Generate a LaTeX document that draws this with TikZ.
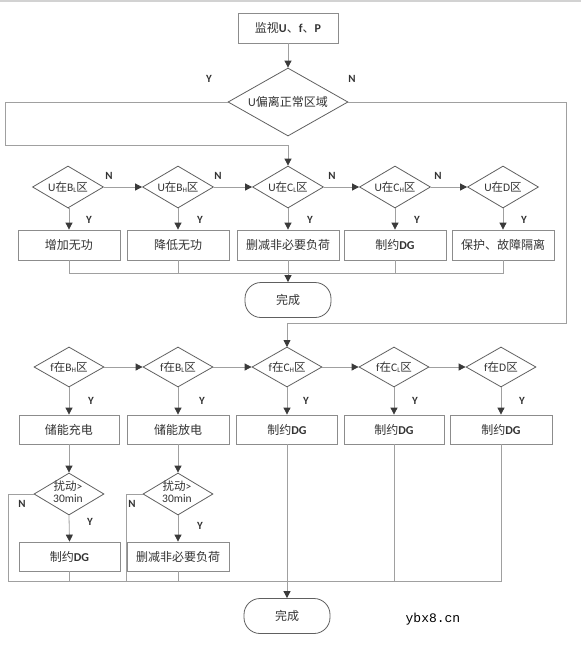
\documentclass[tikz,border=0pt]{standalone}
\usepackage{fontspec}
\setmainfont{Carlito}
\newfontfamily\cjk{Noto Sans CJK SC}
\newfontfamily\wmfont{Liberation Mono}
\usetikzlibrary{shapes.geometric,arrows.meta}
\definecolor{lncol}{HTML}{A0A0A0}
\definecolor{boxcol}{HTML}{8C8C8C}
\definecolor{diacol}{HTML}{606060}
\definecolor{tipcol}{HTML}{3A3A3A}
\definecolor{txtcol}{HTML}{333333}
\newcommand\zh[1]{{\cjk #1}}
\newcommand\lsub[1]{\raisebox{-0.3ex}{\fontsize{7}{7}\selectfont #1}}
\tikzset{
  every node/.style={text=txtcol},
  procbox/.style={draw=boxcol, line width=0.8pt, rectangle, minimum height=30pt, minimum width=102pt, inner sep=0pt, font=\fontsize{12}{14}\selectfont},
  dia/.style={draw=diacol, line width=0.8pt, diamond, minimum width=71pt, minimum height=42pt, inner sep=0pt},
  diatext/.style={font=\fontsize{11.5}{12}\selectfont, inner sep=0pt},
  term/.style={draw=diacol, line width=0.8pt, rectangle, rounded corners=16pt, minimum width=86pt, minimum height=35pt, inner sep=0pt, font=\fontsize{12}{14}\selectfont},
  lnk/.style={draw=lncol, line width=0.8pt},
  arr/.style={lnk, -{Triangle[length=7pt,width=7pt,color=tipcol]}},
  yn/.style={font=\bfseries\fontsize{11}{12}\selectfont, inner sep=0pt}
}
\begin{document}
\begin{tikzpicture}[x=1pt,y=-1pt]
\useasboundingbox (0,0) rectangle (581,649);
\fill[white] (0,0) rectangle (581,649);
\draw[gray!35, line width=2pt] (0,1) -- (581,1);

% top
\node[procbox, minimum width=100pt] (start) at (288,28) {\zh{监视}\textbf{U}\zh{、}\textbf{f}\zh{、}\textbf{P}};
\node[dia, minimum width=120pt, minimum height=68pt] (dmain) at (288,102) {};
\node[diatext, font=\fontsize{12}{13}\selectfont] (dmaint) at (288,102) {U\zh{偏离正常区域}};
\draw[arr] (start.south) -- (dmain.north);
\node[yn] (ymain) at (209,79) {Y};
\node[yn] (nmain) at (352,79) {N};

% row 1 diamonds
\foreach \n/\x/\t in {u1/68/{U\zh{在}B\lsub{L}\zh{区}}, u2/178/{U\zh{在}B\lsub{H}\zh{区}}, u3/288/{U\zh{在}C\lsub{L}\zh{区}}, u4/395/{U\zh{在}C\lsub{H}\zh{区}}, u5/503/{U\zh{在}D\zh{区}}}{
  \node[dia] (\n) at (\x,187) {};
  \node[diatext] (\n t) at (\x,187) {\t};
}
% row 1 boxes
\node[procbox] (b1) at (69,245) {\zh{增加无功}};
\node[procbox] (b2) at (178,245) {\zh{降低无功}};
\node[procbox] (b3) at (288,245) {\zh{删减非必要负荷}};
\node[procbox] (b4) at (395,245) {\zh{制约}\textbf{DG}};
\node[procbox] (b5) at (503,245) {\zh{保护、故障隔离}};
\node[term] (end1) at (288,300) {\zh{完成}};

% loops from main decision
\coordinate (lc1) at (5,102);
\coordinate (lc2) at (5,145);
\draw[arr] (dmain.west) -- (lc1) -- (lc2) -| (u3.north);
\coordinate (rc1) at (566,102);
\coordinate (rc2) at (566,323);

% row 1 connectors
\draw[arr] (u1.east) -- (u2.west);
\draw[arr] (u2.east) -- (u3.west);
\draw[arr] (u3.east) -- (u4.west);
\draw[arr] (u4.east) -- (u5.west);
\foreach \x/\n in {109/na, 218/nb, 332/nc, 438/nd}{\node[yn] (\n) at (\x,176) {N};}
\foreach \i in {1,...,5}{\draw[arr] (u\i.south) -- (b\i.north |- u\i.south) -- (b\i.north);}
\foreach \x/\n in {89/ya, 200/yb, 310/yc, 417/yd, 524/ye}{\node[yn] (\n) at (\x,220) {Y};}
\coordinate (mL) at (69,273);
\coordinate (mR) at (503,273);
\draw[lnk] (b1.south) -- (mL) -- (mR) -- (b5.south);
\draw[lnk] (b2.south) -- (b2.south |- mL);
\draw[lnk] (b4.south) -- (b4.south |- mL);
\draw[arr] (b3.south) -- (end1.north);

% row 2
\draw[arr] (dmain.east) -- (rc1) -- (rc2) -| (287,347);
\foreach \n/\x/\t in {f1/69/{f\zh{在}B\lsub{H}\zh{区}}, f2/178/{f\zh{在}B\lsub{L}\zh{区}}, f3/287/{f\zh{在}C\lsub{H}\zh{区}}, f4/394/{f\zh{在}C\lsub{L}\zh{区}}, f5/501/{f\zh{在}D\zh{区}}}{
  \node[dia, minimum height=40pt, minimum width=70pt] (\n) at (\x,367) {};
  \node[diatext] (\n t) at (\x,367) {\t};
}
\draw[arr] (f1.east) -- (f2.west);
\draw[arr] (f2.east) -- (f3.west);
\draw[arr] (f3.east) -- (f4.west);
\draw[arr] (f4.east) -- (f5.west);
\node[procbox, minimum height=29pt, minimum width=100pt] (c1) at (69,429.5) {\zh{储能充电}};
\node[procbox, minimum height=29pt] (c2) at (178,429.5) {\zh{储能放电}};
\node[procbox, minimum height=29pt, minimum width=101pt] (c3) at (287,429.5) {\zh{制约}\textbf{DG}};
\node[procbox, minimum height=29pt, minimum width=100pt] (c4) at (394,429.5) {\zh{制约}\textbf{DG}};
\node[procbox, minimum height=29pt] (c5) at (501,429.5) {\zh{制约}\textbf{DG}};
\foreach \i in {1,...,5}{\draw[arr] (f\i.south) -- (c\i.north);}
\foreach \x/\n in {91/yf, 202/yg, 306/yh, 415/yi, 522/yj}{\node[yn] (\n) at (\x,401) {Y};}

% row 3
\node[dia, minimum height=42pt, minimum width=70pt] (g1) at (69,494) {};
\node[diatext, align=center] (g1t) at (68,492) {\zh{扰动}>\\30min};
\node[dia, minimum height=42pt, minimum width=70pt] (g2) at (178,494) {};
\node[diatext, align=center] (g2t) at (177,492) {\zh{扰动}>\\30min};
\draw[arr] (c1.south) -- (g1.north);
\draw[arr] (c2.south) -- (g2.north);
\node[procbox, minimum height=29pt, minimum width=101pt] (h1) at (69.5,556.5) {\zh{制约}\textbf{DG}};
\node[procbox, minimum height=29pt] (h2) at (178,556.5) {\zh{删减非必要负荷}};
\draw[arr] (g1.south) -- (h1.north);
\draw[arr] (g2.south) -- (h2.north);
\node[yn] (yk) at (90,522) {Y};
\node[yn] (yl) at (200,526) {Y};
\node[yn] (nk) at (22,504) {N};
\node[yn] (nl) at (132,504) {N};

\coordinate (nL) at (8,581);
\coordinate (nM) at (126,581);
\coordinate (nR) at (501,581);
\draw[lnk] (g1.west) -| (nL) -- (nR) -- (c5.south);
\draw[lnk] (g2.west) -| (nM);
\draw[lnk] (h1.south) -- (h1.south |- nL);
\draw[lnk] (h2.south) -- (h2.south |- nL);
\draw[lnk] (c4.south) -- (c4.south |- nL);
\node[term] (end2) at (287,616) {\zh{完成}};
\draw[arr] (c3.south) -- (end2.north);

\node[font=\wmfont\fontsize{13}{14}\selectfont, text=black] (wm) at (433,619) {ybx8.cn};
\end{tikzpicture}
\end{document}
